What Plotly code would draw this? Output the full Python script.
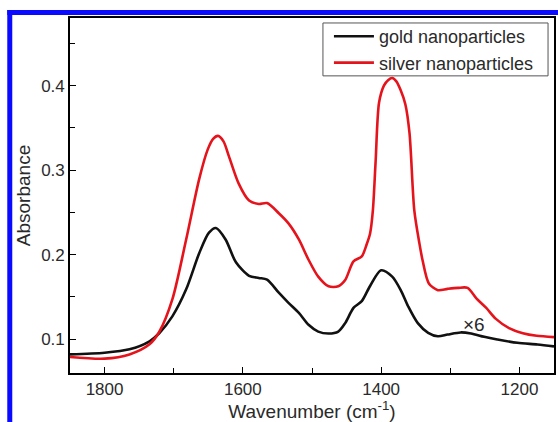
import plotly.graph_objects as go

# FTIR absorbance spectra (wavenumber in cm^-1)
wn_gold = [1850, 1800, 1764, 1735, 1721, 1702, 1682, 1663, 1649, 1639, 1625, 1610,
           1591, 1577, 1565, 1548, 1534, 1519, 1505, 1491, 1476, 1462, 1452, 1440,
           1428, 1416, 1400, 1384, 1371, 1361, 1347, 1332, 1318, 1304, 1285, 1270,
           1251, 1232, 1203, 1174, 1150]
abs_gold = [0.082, 0.084, 0.088, 0.0975, 0.107, 0.127, 0.159, 0.202, 0.226, 0.2315, 0.218, 0.191,
            0.175, 0.1725, 0.1705, 0.155, 0.143, 0.131, 0.117, 0.109, 0.1067, 0.109, 0.119, 0.137,
            0.145, 0.163, 0.1815, 0.174, 0.157, 0.139, 0.119, 0.1076, 0.1035, 0.1055, 0.108, 0.1067,
            0.1028, 0.0997, 0.0957, 0.0937, 0.0915]

wn_silver = [1850, 1800, 1764, 1735, 1721, 1702, 1682, 1663, 1651, 1643, 1636, 1628, 1620, 1606,
             1591, 1577, 1565, 1548, 1534, 1519, 1505, 1491, 1476, 1462, 1452, 1440,
             1428, 1421, 1416, 1412, 1408, 1403, 1396, 1390, 1384, 1378, 1372, 1365,
             1359, 1352, 1345, 1340, 1331, 1318, 1304, 1289, 1275, 1262, 1248, 1234,
             1215, 1195, 1175, 1150]
abs_silver = [0.079, 0.077, 0.082, 0.094, 0.1085, 0.147, 0.218, 0.290, 0.324, 0.337, 0.3405, 0.334, 0.316, 0.284,
              0.264, 0.260, 0.261, 0.249, 0.237, 0.218, 0.194, 0.174, 0.1626, 0.1626, 0.170, 0.192,
              0.198, 0.212, 0.225, 0.252, 0.310, 0.380, 0.400, 0.4065, 0.409, 0.405, 0.395, 0.378,
              0.344, 0.252, 0.215, 0.193, 0.166, 0.158, 0.1595, 0.1607, 0.1607, 0.148, 0.137, 0.124,
              0.113, 0.107, 0.104, 0.1025]

x_ticks = [1800, 1600, 1400, 1200]
y_ticks = [0.1, 0.2, 0.3, 0.4]

FONT = "Liberation Sans, Arial, Helvetica, sans-serif"
TEXT = "#2a2a2a"

fig = go.Figure()
fig.add_trace(go.Scatter(
    x=wn_gold, y=abs_gold, mode="lines", name="gold nanoparticles",
    line=dict(color="#111111", width=2.6, shape="spline", smoothing=0.8),
))
fig.add_trace(go.Scatter(
    x=wn_silver, y=abs_silver, mode="lines", name="silver nanoparticles",
    line=dict(color="#e5141c", width=2.6, shape="spline", smoothing=0.8),
))

axis_common = dict(
    showline=True, linecolor="black", linewidth=1.6, mirror=True,
    ticks="inside", ticklen=6, tickwidth=1.4, tickcolor="black",
    showgrid=False, zeroline=False,
    tickfont=dict(family=FONT, size=17, color=TEXT),
)

fig.update_xaxes(
    range=[1850, 1150], tickvals=x_ticks, ticktext=[str(v) for v in x_ticks],
    minor=dict(ticks="inside", ticklen=5, tickwidth=1.4, tickcolor="black",
               tickvals=[1700, 1500, 1300]),
    title=dict(text="Wavenumber (cm<sup>-1</sup>)", font=dict(family=FONT, size=19, color=TEXT),
               standoff=7),
    **axis_common,
)
fig.update_yaxes(
    range=[0.06, 0.48], tickvals=y_ticks, ticktext=["0.1", "0.2", "0.3", "0.4"],
    minor=dict(ticks="inside", ticklen=5, tickwidth=1.4, tickcolor="black",
               tickvals=[0.15, 0.25, 0.35, 0.45]),
    title=dict(text="Absorbance", font=dict(family=FONT, size=19, color=TEXT), standoff=6),
    **axis_common,
)

fig.add_annotation(
    x=1266, y=0.1174, xref="x", yref="y", text="×6", showarrow=False,
    font=dict(family=FONT, size=19, color=TEXT),
)

# legend frame
fig.add_shape(type="rect", xref="paper", yref="paper",
              x0=0.5226, x1=0.9877, y0=0.837, y1=0.986,
              fillcolor="white", line=dict(color="#555555", width=1), layer="above")

# blue frame along the top and left edges
fig.add_shape(type="rect", xref="paper", yref="paper",
              x0=-0.1296, x1=-0.1193, y0=-0.14, y1=1.0225,
              fillcolor="#0a0aff", line=dict(width=0), layer="above")
fig.add_shape(type="rect", xref="paper", yref="paper",
              x0=-0.1296, x1=1.01, y0=1.0084, y1=1.0225,
              fillcolor="#0a0aff", line=dict(width=0), layer="above")

fig.update_layout(
    width=558, height=422,
    margin=dict(l=70, r=2, t=18, b=48),
    paper_bgcolor="white", plot_bgcolor="white",
    showlegend=True,
    legend=dict(
        x=0.535, y=1.0, xanchor="left", yanchor="top",
        bgcolor="rgba(0,0,0,0)", borderwidth=0,
        font=dict(family=FONT, size=18, color=TEXT),
        tracegroupgap=0, itemwidth=40,
    ),
)

fig.write_html("out.html")
